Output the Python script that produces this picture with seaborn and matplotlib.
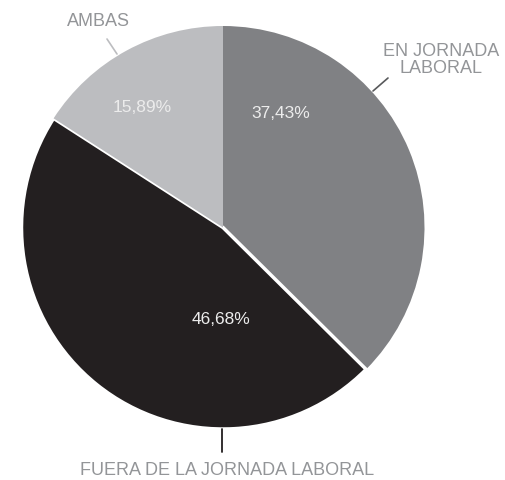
import matplotlib
matplotlib.use("Agg")
import matplotlib.pyplot as plt
import seaborn as sns

# data
categories = ["EN JORNADA\nLABORAL", "FUERA DE LA JORNADA LABORAL", "AMBAS"]
shares = [37.43, 46.68, 15.89]
pct_labels = ["37,43%", "46,68%", "15,89%"]
slice_colors = ["#808184", "#231f20", "#bcbdc0"]

sns.set_theme(style="white")
plt.rcParams["font.family"] = ["Liberation Sans", "DejaVu Sans"]

fig = plt.figure(figsize=(5.05, 4.81), dpi=100)
ax = fig.add_axes([0, 0, 1, 1])
ax.set_xlim(0, 505)
ax.set_ylim(0, 481)
ax.axis("off")

cx, cy, r = 223, 481 - 228.5, 201.5
wedges, _ = ax.pie(shares, colors=slice_colors, startangle=90, counterclock=False,
                   center=(cx, cy), radius=r, frame=True,
                   wedgeprops=dict(linewidth=0))
wedges[1].set_edgecolor("white")
wedges[1].set_linewidth(2.5)
ax.set_xlim(0, 505)
ax.set_ylim(0, 481)
ax.axis("off")

# percentages inside the slices
pct_pos = [(281, 481 - 113), (221, 481 - 320), (142, 481 - 107)]
for (x, y), t in zip(pct_pos, pct_labels):
    ax.text(x, y, t, color="#ececec", fontsize=12.5, ha="center", va="center")

label_color = "#939598"
# EN JORNADA LABORAL
ax.text(441, 481 - 60, categories[0], color=label_color, fontsize=13,
        ha="center", va="center", linespacing=1.05)
ax.plot([373, 388], [481 - 92, 481 - 79], color="#58595b", lw=1.2)
# FUERA DE LA JORNADA LABORAL
ax.text(227, 481 - 471, categories[1], color=label_color, fontsize=13,
        ha="center", va="center")
ax.plot([222, 222], [481 - 430, 481 - 453], color="#231f20", lw=1.3)
# AMBAS
ax.text(98, 481 - 22, categories[2], color=label_color, fontsize=13,
        ha="center", va="center")
ax.plot([107, 117], [481 - 40, 481 - 55], color="#bcbdc0", lw=1.2)

fig.savefig("out.png", dpi=100)
